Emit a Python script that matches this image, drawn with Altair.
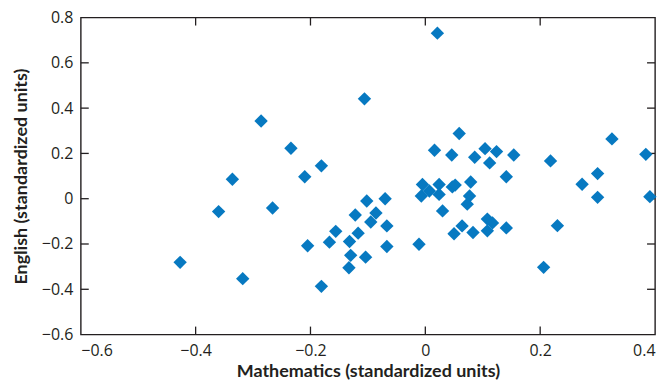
import altair as alt
import pandas as pd

math_x = [0.021, -0.106, -0.286, -0.234, -0.181, -0.210, -0.336, -0.360, -0.266, -0.427,
          -0.318, -0.205, -0.181, -0.156, -0.167, -0.122, -0.117, -0.132, -0.130, -0.133,
          -0.104, -0.102, -0.086, -0.095, -0.070, -0.067, -0.067, -0.011, -0.007, -0.005,
          0.007, 0.024, 0.024, 0.016, 0.030, 0.046, 0.047, 0.052, 0.059, 0.050,
          0.064, 0.079, 0.077, 0.073, 0.083, 0.086, 0.104, 0.112, 0.124, 0.108,
          0.117, 0.108, 0.141, 0.141, 0.154, 0.218, 0.206, 0.230, 0.273, 0.300,
          0.300, 0.325, 0.384, 0.391]
english_y = [0.731, 0.441, 0.343, 0.223, 0.145, 0.097, 0.086, -0.057, -0.041, -0.281,
             -0.353, -0.208, -0.387, -0.144, -0.192, -0.072, -0.152, -0.189, -0.250, -0.305,
             -0.258, -0.010, -0.063, -0.103, 0.000, -0.120, -0.211, -0.201, 0.012, 0.063,
             0.034, 0.063, 0.019, 0.214, -0.054, 0.193, 0.052, 0.060, 0.288, -0.155,
             -0.120, 0.074, 0.012, -0.024, -0.149, 0.183, 0.221, 0.158, 0.208, -0.090,
             -0.107, -0.142, 0.097, -0.129, 0.193, 0.167, -0.303, -0.119, 0.064, 0.111,
             0.006, 0.264, 0.196, 0.009]

x_ticks = [-0.6, -0.4, -0.2, 0, 0.2, 0.4]
y_ticks = [-0.6, -0.4, -0.2, 0, 0.2, 0.4, 0.6, 0.8]
x_inner = [-0.4, -0.2, 0, 0.2]
y_inner = [-0.4, -0.2, 0, 0.2, 0.4, 0.6]

X_MIN, X_MAX = -0.6, 0.4
Y_MIN, Y_MAX = -0.6, 0.8
W, H = 576, 318
TICK_PX = 8
tx = TICK_PX * (X_MAX - X_MIN) / W
ty = TICK_PX * (Y_MAX - Y_MIN) / H

LABEL_FONT = "Open Sans, sans-serif"
TITLE_FONT = "Lato, Open Sans, sans-serif"
INK = "#231f20"

df = pd.DataFrame({"math": math_x, "english": english_y})

xs = alt.Scale(domain=[X_MIN, X_MAX], nice=False, zero=False)
ys = alt.Scale(domain=[Y_MIN, Y_MAX], nice=False, zero=False)

points = alt.Chart(df).mark_point(
    shape="diamond", filled=True, size=180, color="#0779c1", opacity=1
).encode(
    x=alt.X("math:Q", scale=xs, title="Mathematics (standardized units)",
            axis=alt.Axis(values=x_ticks, format="~g")),
    y=alt.Y("english:Q", scale=ys, title="English (standardized units)",
            axis=alt.Axis(values=y_ticks, format="~g")),
)

xt_df = pd.DataFrame({"v": x_inner})
yt_df = pd.DataFrame({"v": y_inner})

bottom = alt.Chart(xt_df).mark_rule(color=INK, strokeWidth=1.3).encode(
    x="v:Q", y=alt.Y(datum=Y_MIN, scale=ys), y2=alt.Y2(datum=Y_MIN + ty))
top = alt.Chart(xt_df).mark_rule(color=INK, strokeWidth=1.3).encode(
    x="v:Q", y=alt.Y(datum=Y_MAX, scale=ys), y2=alt.Y2(datum=Y_MAX - ty))
left = alt.Chart(yt_df).mark_rule(color=INK, strokeWidth=1.3).encode(
    y="v:Q", x=alt.X(datum=X_MIN, scale=xs), x2=alt.X2(datum=X_MIN + tx))
right = alt.Chart(yt_df).mark_rule(color=INK, strokeWidth=1.3).encode(
    y="v:Q", x=alt.X(datum=X_MAX, scale=xs), x2=alt.X2(datum=X_MAX - tx))

chart = alt.layer(bottom, top, left, right, points).properties(
    width=W, height=H,
    autosize=alt.AutoSizeParams(type="none"),
    padding={"left": 73, "top": 9, "right": 8, "bottom": 49},
).configure_view(
    stroke=INK, strokeWidth=1.4
).configure_axis(
    domain=False, ticks=False, grid=False,
    labelFont=LABEL_FONT, labelFontSize=16, labelColor=INK,
    titleFont=TITLE_FONT, titleFontSize=18, titleFontWeight="bold", titleColor=INK,
).configure_axisX(
    labelPadding=8, titlePadding=4,
).configure_axisY(
    labelPadding=8, titlePadding=11,
)

chart.save("out.html", embed_options={"renderer": "svg", "actions": False})
